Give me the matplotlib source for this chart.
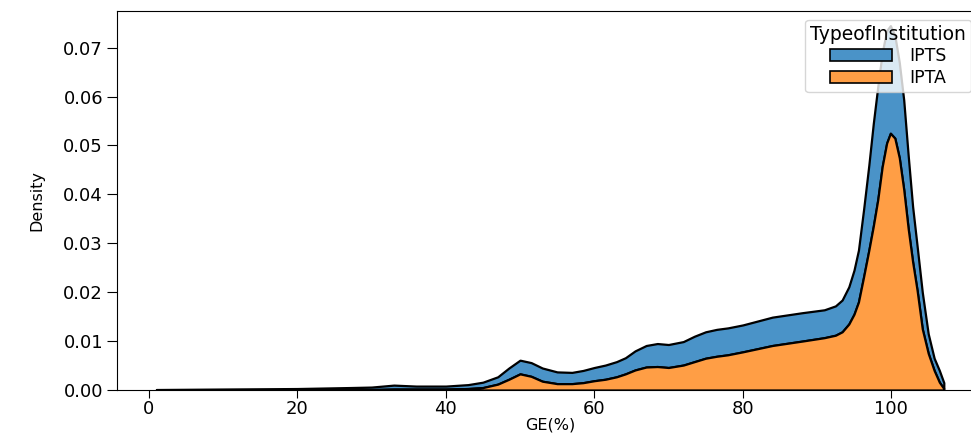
import matplotlib
matplotlib.use("Agg")
import matplotlib.pyplot as plt
import numpy as np
from matplotlib.patches import Patch

# GE(%) grid and stacked KDE densities
ge = [1, 10, 20, 27, 30, 33, 36, 40, 43, 45, 47, 48.5, 50, 51.5, 53, 55, 57,
      58.5, 60, 61.5, 63, 64.2, 65.5, 67, 68.5, 70, 72, 73.5, 75, 76.5, 78, 80,
      84, 88, 91, 92.5, 93.4, 94.3, 95.0, 95.6, 96.3, 97.0, 97.6, 98.2, 98.8,
      99.4, 99.9, 100.5, 101.1, 101.7, 102.3, 102.9, 103.5, 104.2, 105.0,
      105.8, 106.5, 107.1]

# total (IPTS stacked on IPTA)
total = [0.0001, 0.0002, 0.0003, 0.0005, 0.0006, 0.0010, 0.0008, 0.0008,
         0.0011, 0.0016, 0.0027, 0.0045, 0.0061, 0.0056, 0.0045, 0.0037,
         0.0036, 0.0040, 0.0046, 0.0051, 0.0058, 0.0066, 0.0080, 0.0091,
         0.0095, 0.0093, 0.0099, 0.0110, 0.0119, 0.0124, 0.0127, 0.0133,
         0.0149, 0.0158, 0.0164, 0.0172, 0.0184, 0.0211, 0.0245, 0.0286,
         0.0370, 0.0460, 0.0545, 0.0620, 0.0690, 0.0735, 0.0745, 0.0725,
         0.0670, 0.0593, 0.0480, 0.0375, 0.0295, 0.0200, 0.0115, 0.0065,
         0.0040, 0.0015]

# IPTA layer (bottom)
ipta = [0.0000, 0.0000, 0.0001, 0.0001, 0.0001, 0.0002, 0.0002, 0.0002,
        0.0003, 0.0005, 0.0012, 0.0022, 0.0033, 0.0028, 0.0018, 0.0013,
        0.0013, 0.0015, 0.0019, 0.0022, 0.0027, 0.0033, 0.0041, 0.0047,
        0.0048, 0.0046, 0.0051, 0.0058, 0.0065, 0.0069, 0.0072, 0.0078,
        0.0091, 0.0100, 0.0107, 0.0112, 0.0119, 0.0135, 0.0155, 0.0180,
        0.0232, 0.0286, 0.0335, 0.0389, 0.0457, 0.0505, 0.0525, 0.0515,
        0.0475, 0.0410, 0.0330, 0.0262, 0.0204, 0.0125, 0.0075, 0.0040,
        0.0016, 0.0003]

categories = ["IPTS", "IPTA"]
yticks = [0.00, 0.01, 0.02, 0.03, 0.04, 0.05, 0.06, 0.07]
xticks = [0, 20, 40, 60, 80, 100]

blue = "#4a93c8"
orange = "#ff9e45"

plt.rcParams['font.family'] = ['DejaVu Sans']
fig = plt.figure(figsize=(9.71, 4.36), dpi=100)
ax = fig.add_axes([0.1205, 0.1055, 0.892, 0.8693])

x = np.array(ge)
t = np.array(total)
o = np.array(ipta)

ax.fill_between(x, o, t, facecolor=blue, edgecolor="black", linewidth=1.6)
ax.fill_between(x, 0, o, facecolor=orange, edgecolor="black", linewidth=1.6)

ax.set_xlim(-4.3, 112.4)
ax.set_ylim(0, 0.0775)
ax.set_xticks(xticks)
ax.set_yticks(yticks)
ax.set_yticklabels([f"{v:.2f}" for v in yticks])
ax.tick_params(axis="y", labelsize=13, length=7, pad=3)
ax.tick_params(axis="x", labelsize=13, length=6, pad=1)
ax.set_xlabel("GE(%)", fontsize=11.5, labelpad=0)
ax.set_ylabel("Density", fontsize=11.5, labelpad=14)

handles = [Patch(facecolor=blue, edgecolor="black", linewidth=1.2),
           Patch(facecolor=orange, edgecolor="black", linewidth=1.2)]
ax.legend(handles, categories, title="TypeofInstitution", loc="upper right",
          fontsize=12.5, title_fontsize=13.5, handlelength=3.6,
          labelspacing=0.2, borderpad=0.3, handletextpad=1.0,
          bbox_to_anchor=(0.9965, 1.0))

fig.savefig("out.png", dpi=100)
